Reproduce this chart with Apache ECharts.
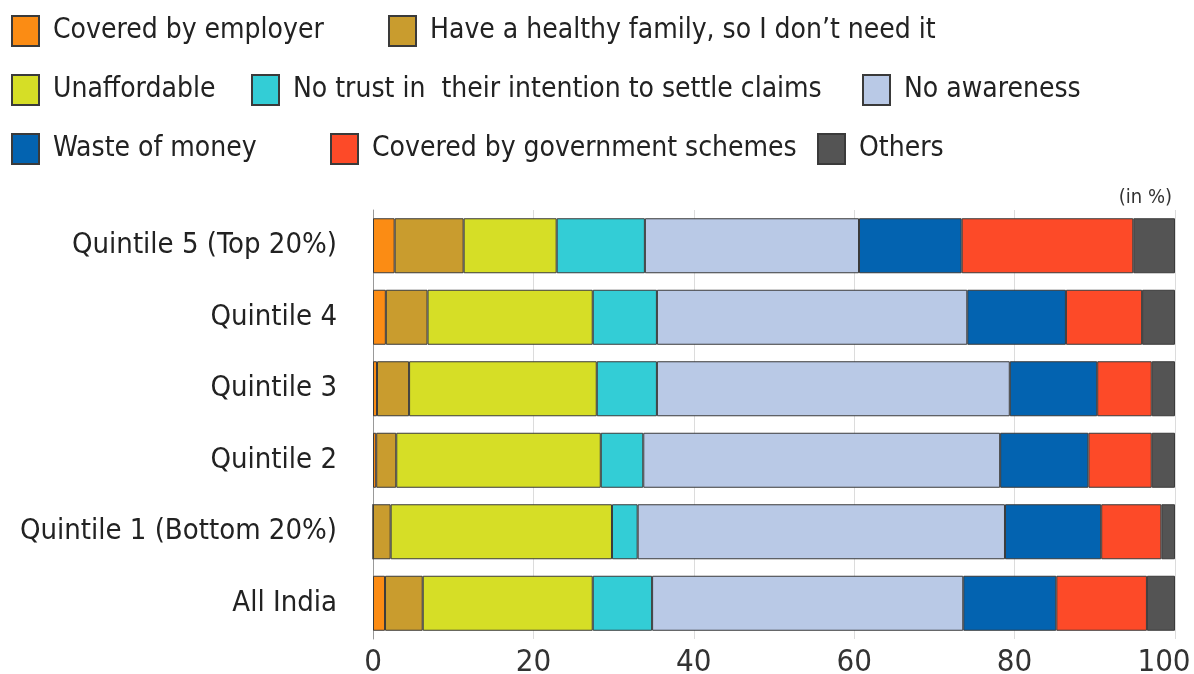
<!DOCTYPE html>
<html>
<head>
<meta charset="utf-8">
<script src="https://cdn.jsdelivr.net/npm/echarts@6/dist/echarts.min.js"></script>
<style>
html,body{margin:0;padding:0;background:#fff;}
#c{width:1194px;height:674px;}
</style>
</head>
<body>
<div id="c"></div>
<script>
const categories = ['Quintile 5 (Top 20%)', 'Quintile 4', 'Quintile 3', 'Quintile 2', 'Quintile 1 (Bottom 20%)', 'All India'];
const seriesNames = ['Covered by employer', 'Have a healthy family, so I don\u2019t need it', 'Unaffordable', 'No trust in  their intention to settle claims', 'No awareness', 'Waste of money', 'Covered by government schemes', 'Others'];
const coveredByEmployer = [2.7, 1.6, 0.5, 0.4, 0.0, 1.5];
const healthyFamily     = [8.6, 5.2, 4.0, 2.5, 2.2, 4.7];
const unaffordable      = [11.6, 20.6, 23.4, 25.5, 27.6, 21.2];
const noTrust           = [11.0, 8.0, 7.5, 5.3, 3.2, 7.4];
const noAwareness       = [26.7, 38.7, 44.0, 44.5, 45.8, 38.8];
const wasteOfMoney      = [12.8, 12.3, 10.9, 11.0, 12.0, 11.6];
const governmentSchemes = [21.4, 9.5, 6.8, 7.9, 7.5, 11.3];
const others            = [5.2, 4.1, 2.9, 2.9, 1.7, 3.5];
const xTicks = [0, 20, 40, 60, 80, 100];

const values = [coveredByEmployer, healthyFamily, unaffordable, noTrust, noAwareness, wasteOfMoney, governmentSchemes, others];
const colors = ['#fb8c14', '#c99c2e', '#d6de26', '#33cdd6', '#b9c9e6', '#0363b0', '#fd4a28', '#545454'];
const FONT = "'DejaVu Sans Condensed', 'Liberation Sans Narrow', sans-serif";

const legendPos = [
  {left: 11, top: 15}, {left: 388, top: 15},
  {left: 11, top: 74}, {left: 251, top: 74}, {left: 862, top: 74},
  {left: 11, top: 133}, {left: 330, top: 133}, {left: 817, top: 133}
];

const chart = echarts.init(document.getElementById('c'), null, {renderer: 'canvas'});
chart.setOption({
  backgroundColor: '#ffffff',
  animation: false,
  textStyle: {fontFamily: FONT},
  legend: seriesNames.map((n, i) => ({
    data: [n],
    left: legendPos[i].left,
    top: legendPos[i].top,
    selectedMode: false,
    itemWidth: 27,
    itemHeight: 30,
    icon: 'rect',
    padding: 0,
    textStyle: {fontFamily: FONT, fontSize: 28, color: '#222', lineHeight: 30, padding: [0, 0, 0, 9]}
  })),
  graphic: [{
    type: 'text', right: 22, top: 188,
    style: {text: '(in %)', font: "20px 'DejaVu Sans Condensed', sans-serif", fill: '#333'}
  }],
  grid: {left: 373, right: 19, top: 210, bottom: 35, containLabel: false, outerBoundsMode: 'none'},
  xAxis: {
    type: 'value', min: 0, max: 100, interval: 20,
    axisLine: {show: false}, axisTick: {show: false},
    splitLine: {show: true, lineStyle: {color: '#dcdcdc', width: 1}},
    axisLabel: {
      fontFamily: FONT, fontSize: 31, color: '#333', margin: 8,
      formatter: v => v === 100 ? '{m|100}' : String(v),
      rich: {m: {fontFamily: FONT, fontSize: 31, color: '#333', padding: [0, 22, 0, 0]}}
    }
  },
  yAxis: {
    type: 'category', inverse: true, data: categories,
    axisLine: {show: true, lineStyle: {color: '#999', width: 1}},
    axisTick: {show: false},
    axisLabel: {fontFamily: FONT, fontSize: 29, color: '#222', margin: 36}
  },
  series: seriesNames.map((n, i) => ({
    name: n, type: 'bar', stack: 'total', barWidth: 55,
    data: values[i],
    itemStyle: {color: colors[i], borderColor: '#3a3a3a', borderWidth: 1}
  }))
});
</script>
</body>
</html>
